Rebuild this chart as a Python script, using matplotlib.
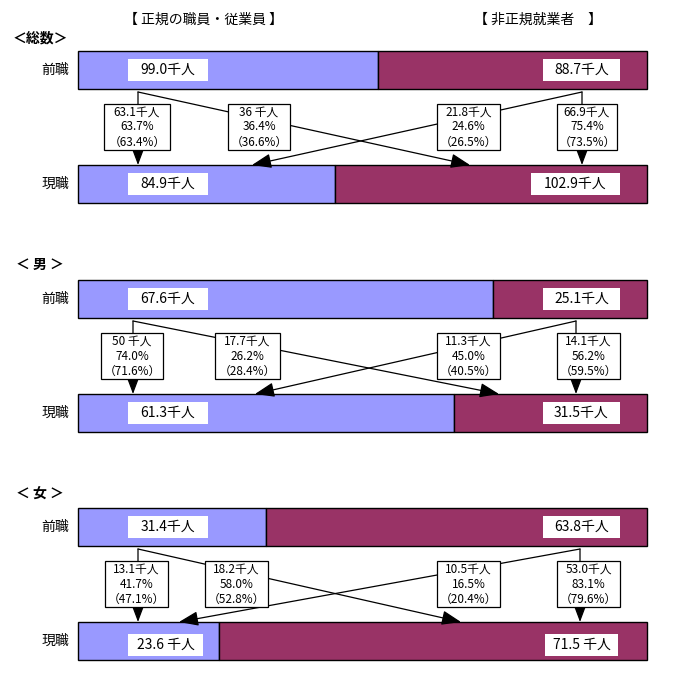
import matplotlib
matplotlib.use('Agg')
import matplotlib.pyplot as plt
from matplotlib.patches import Rectangle

plt.rcParams['font.family'] = ['Noto Sans CJK JP', 'DejaVu Sans']

# データ
headers = ['【 正規の職員・従業員 】', '【 非正規就業者　】']
sections = ['＜総数＞', '＜ 男 ＞', '＜ 女 ＞']
row_labels = ['前職', '現職']
prev_regular = [99.0, 67.6, 31.4]
prev_nonreg = [88.7, 25.1, 63.8]
curr_regular = [84.9, 61.3, 23.6]
curr_nonreg = [102.9, 31.5, 71.5]
prev_labels = [['99.0千人', '88.7千人'], ['67.6千人', '25.1千人'], ['31.4千人', '63.8千人']]
curr_labels = [['84.9千人', '102.9千人'], ['61.3千人', '31.5千人'], ['23.6 千人', '71.5 千人']]
# 移動の内訳: 正規→正規, 正規→非正規, 非正規→正規, 非正規→非正規
flow_num = [['63.1千人', '36 千人', '21.8千人', '66.9千人'],
            ['50 千人', '17.7千人', '11.3千人', '14.1千人'],
            ['13.1千人', '18.2千人', '10.5千人', '53.0千人']]
flow_pct = [['63.7%', '36.4%', '24.6%', '75.4%'],
            ['74.0%', '26.2%', '45.0%', '56.2%'],
            ['41.7%', '58.0%', '16.5%', '83.1%']]
flow_prev = [['（63.4%）', '（36.6%）', '（26.5%）', '（73.5%）'],
             ['（71.6%）', '（28.4%）', '（40.5%）', '（59.5%）'],
             ['（47.1%）', '（52.8%）', '（20.4%）', '（79.6%）']]

# レイアウト (ピクセル)
sec_top = [51, 280, 508]
title_y = [38, 265, 494]
bar_x0, bar_w, bar_h = 78, 569, 38
curr_off = 114
box_off, box_h = 53, 46
box_x = [[(104, 170), (228, 290), (437, 500), (557, 617)],
         [(101, 163), (215, 280), (437, 500), (557, 620)],
         [(105, 168), (205, 268), (437, 500), (557, 620)]]
src_x = [(138, 582), (133, 576), (138, 580)]
cross_x = [(470, 252), (499, 255), (461, 179)]
val_box = [(128, 208), (543, 620)]
cur_val_box = [[(128, 208), (531, 620)], [(128, 208), (543, 620)], [(128, 203), (545, 618)]]
cur_val_dy = [0, 0, 4]

blue = '#9999FF'
maroon = '#993366'

fig = plt.figure(figsize=(6.85, 6.8), dpi=100)
ax = fig.add_axes([0, 0, 1, 1])
ax.set_xlim(0, 685)
ax.set_ylim(680, 0)
ax.axis('off')

ax.text(204, 20, headers[0], ha='center', va='center', fontsize=10)
ax.text(538, 20, headers[1], ha='center', va='center', fontsize=10)


def value_box(x0, x1, yc, s):
    ax.add_patch(Rectangle((x0, yc - 11), x1 - x0, 22, facecolor='white', edgecolor='none', zorder=3))
    ax.text((x0 + x1) / 2, yc, s, ha='center', va='center', fontsize=10, zorder=4)


for i in range(3):
    top = sec_top[i]
    cur = top + curr_off
    ax.text(40, title_y[i], sections[i], ha='center', va='center', fontsize=10, fontweight='bold')
    ax.text(55, top + bar_h / 2, row_labels[0], ha='center', va='center', fontsize=10)
    ax.text(55, cur + bar_h / 2, row_labels[1], ha='center', va='center', fontsize=10)

    tot_p = prev_regular[i] + prev_nonreg[i]
    tot_c = curr_regular[i] + curr_nonreg[i]
    wp = prev_regular[i] / tot_p * bar_w
    wc = curr_regular[i] / tot_c * bar_w
    ax.barh(top + bar_h / 2, wp, left=bar_x0, height=bar_h, color=blue, edgecolor='black', lw=1)
    ax.barh(top + bar_h / 2, prev_nonreg[i] / tot_p * bar_w, left=bar_x0 + wp, height=bar_h,
            color=maroon, edgecolor='black', lw=1)
    ax.barh(cur + bar_h / 2, wc, left=bar_x0, height=bar_h, color=blue, edgecolor='black', lw=1)
    ax.barh(cur + bar_h / 2, curr_nonreg[i] / tot_c * bar_w, left=bar_x0 + wc, height=bar_h,
            color=maroon, edgecolor='black', lw=1)

    for j in range(2):
        value_box(val_box[j][0], val_box[j][1], top + bar_h / 2, prev_labels[i][j])
        cx0, cx1 = cur_val_box[i][j]
        value_box(cx0, cx1, cur + bar_h / 2 + cur_val_dy[i], curr_labels[i][j])

    # 矢印
    y0 = top + bar_h + 3
    sl, sr = src_x[i]
    ap = dict(arrowstyle='-|>,head_length=0.85,head_width=0.32', color='black', lw=0.9,
              shrinkA=0, shrinkB=0, mutation_scale=14)
    ax.annotate('', xy=(sl, cur), xytext=(sl, y0), arrowprops=ap, zorder=1)
    ax.annotate('', xy=(cross_x[i][0], cur), xytext=(sl, y0), arrowprops=ap, zorder=1)
    ax.annotate('', xy=(cross_x[i][1], cur), xytext=(sr, y0), arrowprops=ap, zorder=1)
    ax.annotate('', xy=(sr, cur), xytext=(sr, y0), arrowprops=ap, zorder=1)

    by = top + box_off
    for k in range(4):
        x0, x1 = box_x[i][k]
        ax.add_patch(Rectangle((x0, by), x1 - x0, box_h, facecolor='white', edgecolor='black',
                               lw=0.9, zorder=3))
        xm = (x0 + x1) / 2
        ax.text(xm, by + 8, flow_num[i][k], ha='center', va='center', fontsize=8.5, zorder=4)
        ax.text(xm, by + 23, flow_pct[i][k], ha='center', va='center', fontsize=8.5, zorder=4)
        ax.text(xm, by + 38, flow_prev[i][k], ha='center', va='center', fontsize=8.5, zorder=4)

fig.savefig('out.png', dpi=100)
